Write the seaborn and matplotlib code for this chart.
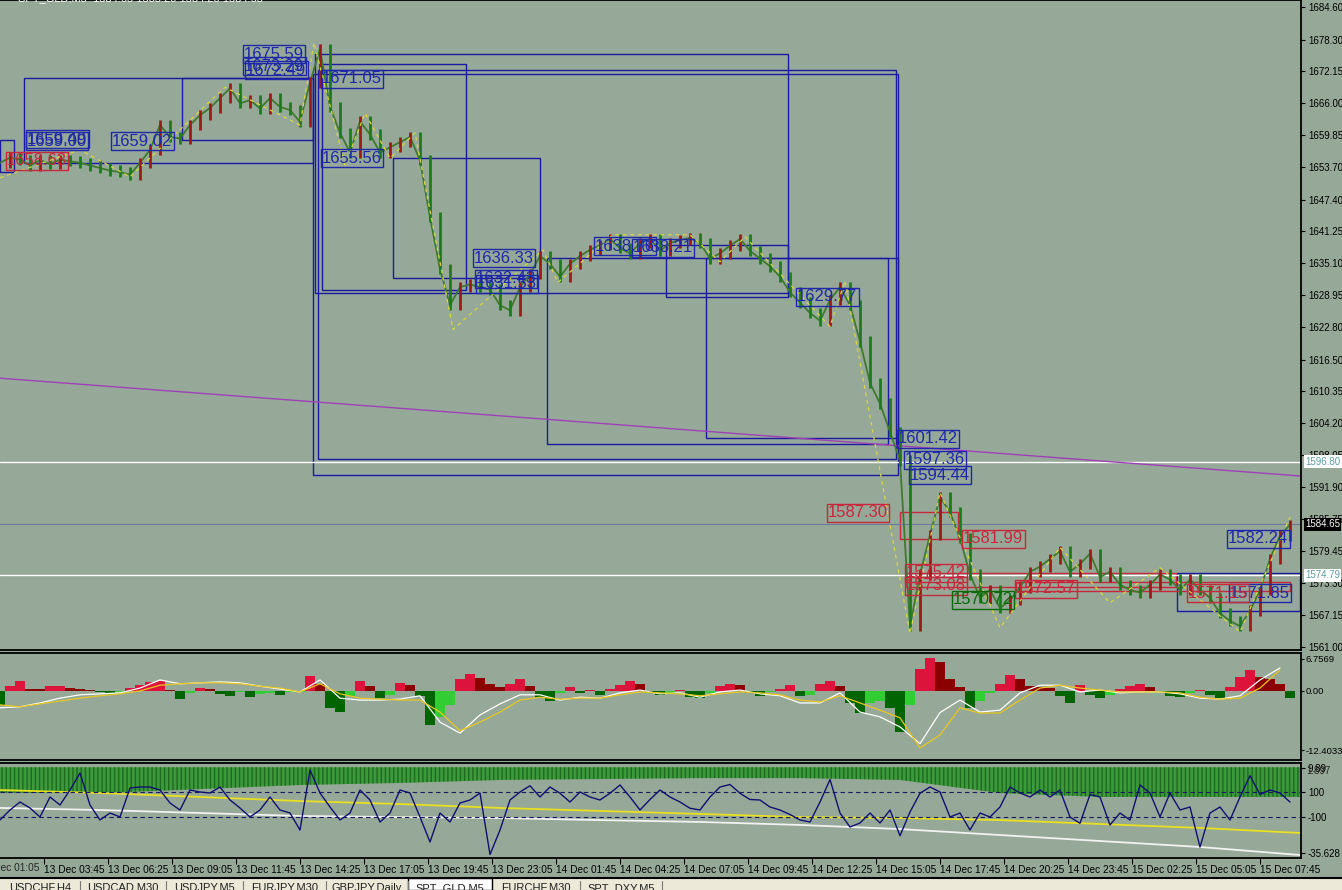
import numpy as np
import pandas as pd
import seaborn as sns
import matplotlib.pyplot as plt
import matplotlib.transforms as mtransforms
from matplotlib.patches import Rectangle
from matplotlib.lines import Line2D

sns.set_style('white')
plt.rcParams['font.family'] = ['Liberation Sans', 'DejaVu Sans']

W, H = 1342, 890
BG = '#96A897'

# ---- price (close every 5 bars of M5) ----
close = [1654.5, 1655.5, 1655.1, 1654.0, 1655.0, 1654.3, 1655.1, 1654.8, 1654.5, 1654.0,
         1653.5, 1653.0, 1652.7, 1652.2, 1654.5, 1657.0, 1661.8, 1659.5, 1659.2, 1661.8,
         1663.7, 1665.1, 1667.0, 1668.9, 1666.0, 1666.6, 1665.0, 1667.0, 1665.3, 1664.7,
         1662.4, 1670.0, 1676.5, 1665.3, 1660.3, 1656.5, 1662.5, 1660.0, 1656.5, 1657.5,
         1658.5, 1659.5, 1655.0, 1644.0, 1634.0, 1627.0, 1630.5, 1631.0, 1630.5, 1630.0,
         1627.0, 1626.0, 1630.5, 1633.0, 1636.5, 1635.0, 1632.5, 1635.0, 1636.5, 1637.7,
         1638.6, 1639.8, 1638.0, 1637.0, 1639.0, 1639.8, 1637.5, 1639.0, 1639.6, 1640.0,
         1639.0, 1636.0, 1637.0, 1638.5, 1639.8, 1637.5, 1636.0, 1634.5, 1632.5, 1629.5,
         1627.5, 1625.5, 1624.0, 1628.0, 1630.5, 1627.0, 1620.0, 1612.0, 1608.0, 1602.5,
         1597.0, 1565.0, 1575.0, 1582.6, 1590.0, 1587.0, 1582.0, 1575.0, 1570.5, 1572.0,
         1568.5, 1570.0, 1572.5, 1575.5, 1576.5, 1578.0, 1579.5, 1575.5, 1577.0, 1579.0,
         1574.5, 1575.5, 1573.0, 1572.0, 1571.5, 1573.0, 1575.0, 1574.0, 1572.0, 1574.0,
         1572.0, 1570.5, 1567.5, 1566.0, 1565.0, 1568.0, 1572.0, 1578.0, 1582.5, 1584.6]

# zigzag pivots (bar, price)
zz_bar = [0, 40, 65, 112.5, 150, 157, 172.5, 182.5, 195, 207.5, 226.5, 271.5, 279, 306.5,
          345, 360, 372.5, 415, 422.5, 455, 470, 500, 530, 555, 580, 620, 645]
zz_price = [1651.6, 1657.0, 1651.8, 1669.1, 1661.8, 1677.7, 1654.1, 1664.1, 1655.4, 1660.3,
            1622.3, 1637.7, 1631.4, 1640.6, 1640.6, 1635.4, 1640.2, 1622.9, 1631.7, 1563.6,
            1590.8, 1564.7, 1580.2, 1569.5, 1576.3, 1563.9, 1586.1]

# boxes: (start bar, end bar, top, bottom)
blue_boxes = [(12, 156.5, 1670.9, 1654.5), (91, 156.5, 1670.9, 1658.9), (0, 7, 1658.9, 1652.7),
              (156.5, 449, 1671.7, 1594.2), (159, 448, 1672.4, 1597.3), (157.5, 394, 1675.5, 1629.4),
              (161, 233, 1673.6, 1630.0), (196.5, 270, 1655.4, 1632.3), (273.5, 444, 1636.1, 1600.2),
              (333, 394, 1638.6, 1628.6), (353, 449, 1636.1, 1601.4), (588.5, 650, 1575.3, 1568.0)]
red_boxes = [(450, 479, 1587.1, 1581.9), (453, 588, 1575.3, 1572.6), (508, 645, 1573.6, 1571.7)]

label_text = ['1675.59', '1673.29', '1672.49', '1671.05', '1659.49', '1659.00', '1659.02', '1655.56',
              '1636.33', '1632.43', '1631.53', '1638.76', '1638.21', '1629.77', '1601.42', '1597.36',
              '1594.44', '1582.24', '1571.85',
              '1658.63', '1587.30', '1581.99', '1575.42', '1573.08', '1572.57', '1571.15',
              '1570.72']
label_bar = [122, 122, 123, 161, 13.5, 13.5, 56, 161, 237, 238, 238.5, 297.5, 316.5, 398.5, 449,
             452.5, 455, 614, 615,
             3.5, 414, 481.5, 453, 453, 508, 594,
             476.5]
label_price = [1675.5, 1673.2, 1672.4, 1670.7, 1659.1, 1658.7, 1658.7, 1655.4, 1636.1, 1632.1, 1631.1,
               1638.4, 1638.1, 1628.6, 1601.2, 1597.1, 1594.2, 1581.9, 1571.4,
               1654.9, 1586.9, 1581.9, 1575.3, 1572.8, 1572.2, 1571.4,
               1570.1]
label_kind = ['b'] * 19 + ['r'] * 7 + ['g']

price_ticks = [1684.60, 1678.30, 1672.15, 1666.00, 1659.85, 1653.70, 1647.40, 1641.25, 1635.10,
               1628.95, 1622.80, 1616.50, 1610.35, 1604.20, 1598.05, 1591.90, 1585.75, 1579.45,
               1573.30, 1567.15, 1561.00]

# ---- MACD-like panel ----
hist = [-3.0, 1.0, 2.1, 0.5, 0.4, 1.0, 1.0, 0.7, 0.5, 0.2,
        -0.3, -0.5, -0.2, 0.6, 1.2, 1.8, 2.0, 0.3, -1.7, -0.5,
        0.6, 0.4, -0.6, -1.0, -0.3, -1.2, -0.6, -0.5, -0.8, -0.3,
        -0.2, 3.1, 1.5, -3.5, -4.4, -1.0, 2.0, 1.0, -1.5, -0.8,
        1.6, 1.2, -1.0, -7.0, -5.5, -3.0, 2.5, 3.5, 2.8, 1.5,
        0.8, 1.5, 2.5, 1.0, -1.5, -2.0, -0.5, 0.8, -0.5, 0.3,
        -0.8, 0.5, 1.2, 2.0, 1.5, -0.5, -0.8, -0.6, 0.3, -1.2,
        -1.5, -0.5, 1.0, 1.5, 1.2, -0.5, -1.0, -0.3, 0.5, 1.2,
        -1.0, -0.8, 1.5, 2.1, 1.0, -2.5, -4.5, -2.5, -2.0, -3.5,
        -8.5, -3.0, 4.5, 6.8, 6.0, 2.5, 0.8, -3.6, -2.0, -0.5,
        1.5, 3.3, 2.5, 1.0, 0.8, 0.6, -1.0, -2.5, 1.2, -0.8,
        -1.5, -0.8, 0.5, 1.0, 1.5, 0.8, -0.3, -1.0, -1.3, -0.5,
        0.3, -0.8, -1.5, 0.8, 3.0, 4.4, 3.0, 2.5, 1.5, -1.5]
# lines every 10 bars
macd_main = [-3.5, -3.3, -2.5, -1.5, -0.8, -0.6, -0.4, 0.6, 2.3, 1.5,
             1.7, 1.9, 1.7, 1.0, 0.4, -0.2, 2.3, -1.5, -1.9, -1.9,
             -1.7, -1.0, -6.5, -8.8, -5.0, -2.7, -0.8, -0.8, -1.9, -1.3,
             -1.5, -0.4, 0.2, -0.6, -0.4, -1.3, -0.2, 0.2, -0.6, -1.0,
             -2.5, -2.5, -0.4, -4.4, -5.4, -7.5, -11.0, -4.5, -1.9, -4.4,
             -4.0, -0.4, 1.2, 1.2, -0.2, 0.2, -0.4, -0.2, -0.2, -0.6,
             -1.5, -1.7, -1.0, 2.3, 4.8]
macd_signal = [-2.9, -3.3, -2.7, -2.1, -1.5, -1.0, -0.6, 0.0, 1.2, 1.5,
               1.7, 1.7, 1.5, 1.0, 0.6, -0.2, 1.5, -0.6, -1.5, -1.7,
               -1.9, -1.9, -4.4, -8.3, -6.5, -4.4, -1.9, -1.3, -1.7, -1.5,
               -1.5, -0.8, -0.2, -0.4, -0.6, -1.0, -0.6, -0.2, -0.4, -0.8,
               -1.9, -2.3, -1.0, -2.5, -4.0, -5.6, -11.9, -9.2, -3.5, -4.6,
               -4.6, -1.9, 0.6, 1.2, 0.6, 0.2, -0.2, -0.2, -0.2, -0.4,
               -1.3, -1.7, -1.5, 0.6, 4.4]

# ---- CCI panel ----
cci = [-124, -44, 20, -28, -100, 60, -4, 116, 252, -4,
       -124, -68, -100, 132, 140, 140, 116, 12, -44, 116,
       100, 92, 140, 36, -28, -100, -44, 60, -44, -68,
       -204, 276, 92, -20, -124, -68, 116, 36, -140, -68,
       116, 92, -100, -300, -68, -140, 12, 36, 92, -400,
       -204, 36, 100, 150, 60, 140, 90, 20, 100, 60,
       36, 90, 156, 60, -44, 40, 116, 60, 20, -30,
       -44, 60, 140, 160, 90, 40, 36, -20, -44, -80,
       -124, -140, 20, 200, -68, -180, -148, -68, -148, -44,
       -250, -60, 90, 140, 100, -100, -68, -204, -68, -100,
       -20, 140, 92, 60, 116, 60, 116, -100, -150, 80,
       60, -164, -68, -124, 156, 92, -100, 92, -44, -20,
       -340, -68, -20, -124, 60, 230, 80, 116, 92, 20]
# slow band indicator every 50 bars
band_lo = [-3.5, -3.5, -1.4, 0.8, 1.9, 3.5, 4.0, 4.5, 4.5, 3.5, -3.5, -5.6, -5.6, -5.6]
band_top = 10.3
band_yellow = [-1.9, -3.5, -5.6, -7.8, -9.4, -11.5, -13.1, -14.7, -16.4, -16.9, -18.0, -20.1, -22.2, -24.9]
band_white = [-11.5, -12.6, -14.2, -15.8, -16.4, -16.9, -18.0, -19.0, -20.6, -22.8, -26.0, -29.2, -32.4, -36.7]

time_labels = ['13 Dec 01:05', '13 Dec 03:45', '13 Dec 06:25', '13 Dec 09:05', '13 Dec 11:45',
               '13 Dec 14:25', '13 Dec 17:05', '13 Dec 19:45', '13 Dec 23:05', '14 Dec 01:45',
               '14 Dec 04:25', '14 Dec 07:05', '14 Dec 09:45', '14 Dec 12:25', '14 Dec 15:05',
               '14 Dec 17:45', '14 Dec 20:25', '14 Dec 23:45', '15 Dec 02:25', '15 Dec 05:05',
               '15 Dec 07:45']
tab_names = ['USDCHF,H4', 'USDCAD,M30', 'USDJPY,M5', 'EURJPY,M30', 'GBPJPY,Daily',
             'SPT_GLD,M5', 'EURCHF,M30', 'SPT_DXY,M5']
active_tab = 'SPT_GLD,M5'

bars = np.arange(len(close)) * 5
line_bars = np.arange(len(macd_main)) * 10
band_bars = np.arange(len(band_lo)) * 50
tick_bars = -10 + 32 * np.arange(len(time_labels))

fig = plt.figure(figsize=(W / 100, H / 100), dpi=100, facecolor=BG)


def panel(top, bottom, lsize=7):
    ax = fig.add_axes([0, 1 - bottom / H, 1301 / W, (bottom - top) / H])
    ax.set_facecolor(BG)
    ax.set_xlim(0, 650.5)
    for s in ['top', 'bottom', 'right']:
        ax.spines[s].set_color('black')
        ax.spines[s].set_linewidth(1.3)
    ax.spines['left'].set_visible(False)
    ax.yaxis.tick_right()
    ax.tick_params(axis='y', direction='out', length=3, width=0.8, labelsize=lsize, pad=2, colors='black')
    ax.tick_params(axis='x', bottom=False, labelbottom=False)
    return ax


# ===== main price panel =====
ax = panel(0, 650)
ax.set_ylim(1560.4, 1685.95)
ax.set_yticks(price_ticks)
ax.set_yticklabels([f'{v:.2f}' for v in price_ticks])

for x0, x1, hi, lo in blue_boxes:
    ax.add_patch(Rectangle((x0, lo), x1 - x0, hi - lo, fill=False, ec='#1A1AA0', lw=1, zorder=2))
for x0, x1, hi, lo in red_boxes:
    ax.add_patch(Rectangle((x0, lo), x1 - x0, hi - lo, fill=False, ec='#C8283C', lw=1, zorder=2))

ax.axhline(1596.80, color='white', lw=1, zorder=2)
ax.axhline(1574.79, color='white', lw=1, zorder=2)
ax.axhline(1584.65, color='#6C7C98', lw=0.8, zorder=2)
ax.plot([0, 650.5], [1612.9, 1594.0], color='#A040B8', lw=1, zorder=2)

c = np.array(close)
lo = np.minimum(c[:-1], c[1:]) - 1.0
hi = np.maximum(c[:-1], c[1:]) + 1.0
cols = np.where(c[1:] >= c[:-1], '#9C1A1A', '#1F7A1F')
ax.plot(bars, close, color='#3F7A2F', lw=1.3, zorder=3)
ax.vlines(bars[1:], lo, hi, colors=cols, lw=2.0, zorder=3)

sns.lineplot(x=zz_bar, y=zz_price, ax=ax, color='#D8D840', lw=0.9, linestyle=(0, (3, 3)), zorder=4)

kind_col = {'b': '#1E28A8', 'r': '#C8283C', 'g': '#0A6A0A'}
for t, xb, yp, k in zip(label_text, label_bar, label_price, label_kind):
    ax.text(xb, yp, t, color=kind_col[k], fontsize=12, va='center', ha='left',
            zorder=5, bbox=dict(boxstyle='square,pad=0.08', fc='none', ec=kind_col[k], lw=1))

tr = mtransforms.blended_transform_factory(ax.transAxes, ax.transData)
for val, fc, tc in [(1596.80, 'white', '#5A9CA0'), (1584.65, 'black', 'white'), (1574.79, 'white', '#5A9CA0')]:
    ax.text(1 + 4 / 1301, val, f'{val:.2f}', transform=tr, fontsize=7, color=tc, va='center', ha='left',
            bbox=dict(boxstyle='square,pad=0.15', fc=fc, ec='none'), zorder=6)

# ===== MACD-like panel =====
axm = panel(653, 760, lsize=6.8)
axm.set_ylim(-14.4, 7.92)
axm.set_yticks([6.7569, 0, -12.4033])
axm.set_yticklabels(['6.7569', '0.00', '-12.4033'])
axm.tick_params(axis='y', pad=1, length=2)
h = np.array(hist)
prev = np.r_[h[0], h[:-1]]
hcol = np.where(h >= 0, np.where(h >= prev, '#DC143C', '#8B0000'),
                np.where(h <= prev, '#006400', '#32CD32'))
axm.bar(bars, h, width=5, color=hcol, align='center', lw=0, zorder=2)
sns.lineplot(x=line_bars, y=macd_main, ax=axm, color='white', lw=0.9, zorder=3)
sns.lineplot(x=line_bars, y=macd_signal, ax=axm, color='#E8C820', lw=0.9, zorder=3)

# ===== CCI panel =====
axc = panel(763, 858)
axc.set_ylim(-38.3, 12.57)
axc.fill_between(band_bars, band_lo, band_top, facecolor='#3C9A3C', edgecolor='#1E6A1E', hatch='||||', lw=0, zorder=1)
sns.lineplot(x=band_bars, y=band_yellow, ax=axc, color='#E8E020', lw=1.3, zorder=2)
sns.lineplot(x=band_bars, y=band_white, ax=axc, color='#F2F2F2', lw=1.3, zorder=2)

axi = axc.twinx()
axi.set_xlim(0, 650.5)
axi.set_ylim(-428, 332)
for s in ['left', 'top', 'bottom', 'right']:
    axi.spines[s].set_visible(False)
axi.tick_params(axis='y', direction='out', length=3, width=0.8, labelsize=7, pad=2, colors='black')
axi.set_yticks([100, -100])
axi.set_yticklabels(['100', '-100'])
axi.axhline(100, color='#1A1A60', lw=0.8, ls=(0, (4, 3)))
axi.axhline(-100, color='#1A1A60', lw=0.8, ls=(0, (4, 3)))
sns.lineplot(x=bars, y=cci, ax=axi, color='#101070', lw=1)

# twinx moved the band axis ticks to the left; put them back on the right
axc.yaxis.tick_right()
axc.set_yticks([9.89, -35.628])
axc.set_yticklabels(['9.89', '-35.628'])
axc.tick_params(axis='y', direction='out', length=3, width=0.8, labelsize=7, pad=2, colors='black')
trc = mtransforms.blended_transform_factory(axc.transAxes, axc.transData)
axc.text(1 + 5 / 1301, 8.4, '1.897', transform=trc, fontsize=7, va='center', ha='left')

for a in (ax, axm, axc, axi):
    a.set_ylabel('')

axc.set_xticks(tick_bars)
axc.set_xticklabels(time_labels)
axc.set_xlim(0, 650.5)
axc.tick_params(axis='x', bottom=True, labelbottom=True, direction='out', length=4, width=0.8,
                labelsize=7.3, pad=1, colors='black')
for lab in axc.get_xticklabels():
    lab.set_ha('left')
# first date label sits left of the window and is cut by the frame edge
fig.text(-21 / W, 1 - 868 / H, time_labels[0], fontsize=7.3, va='center', ha='left')

# ===== header / tab bar =====
fig.text(18 / W, 1 - 3 / H, 'SPT_GLD,M5  1584.65 1585.20 1584.20 1584.65', color='white', fontsize=8,
         va='bottom', ha='left')
fig.add_artist(Rectangle((0, 0), 1, 12 / H, transform=fig.transFigure, fc='#ECE9D8', ec='none', zorder=0))
fig.add_artist(Line2D([0, 1], [12 / H, 12 / H], transform=fig.transFigure, color='black', lw=1.5))
tab_x = [0, 80, 166, 243, 326, 408, 492, 580, 662]
for i, name in enumerate(tab_names):
    x0, x1 = tab_x[i], tab_x[i + 1]
    if name == active_tab:
        fig.add_artist(Rectangle((x0 / W, 0), (x1 - x0) / W, 12 / H, transform=fig.transFigure,
                                 fc='white', ec='black', lw=1))
    else:
        fig.add_artist(Line2D([x1 / W, x1 / W], [0, 9 / H], transform=fig.transFigure, color='#7A7A7A', lw=0.8))
    fig.text((x0 + x1) / 2 / W, 1 - 883 / H, name, fontsize=8, va='top', ha='center', color='#202020')

fig.savefig('out.png', dpi=100, facecolor=BG)
